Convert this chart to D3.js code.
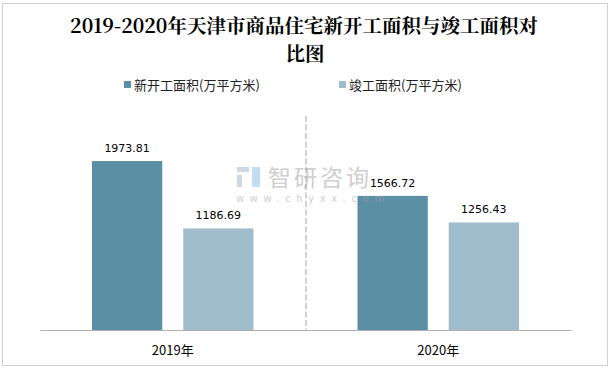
<!DOCTYPE html>
<html>
<head>
<meta charset="utf-8">
<script src="https://cdn.jsdelivr.net/npm/d3@7"></script>
<style>
  body { margin: 0; background: #fff; }
  svg { display: block; }
</style>
</head>
<body>
<div id="chart"></div>
<script>
var years = ["2019年", "2020年"];
var seriesNames = ["新开工面积(万平方米)", "竣工面积(万平方米)"];
var newStarts = [1973.81, 1566.72];
var completed = [1186.69, 1256.43];
var colors = ["#5b8fa5", "#9fbccb"];

var W = 613, H = 370;
var margin = { top: 116, left: 40 },
    width = 571 - margin.left,
    height = 330 - margin.top;

var svg = d3.select("#chart")
    .append("svg")
    .attr("width", W)
    .attr("height", H);

// outer border
svg.append("rect")
    .attr("x", 2.5).attr("y", 3.5)
    .attr("width", 605).attr("height", 362)
    .attr("fill", "none")
    .attr("stroke", "#a0a0a0")
    .attr("stroke-dasharray", "1,1");

// title, two lines
var titleLines = ["2019-2020年天津市商品住宅新开工面积与竣工面积对", "比图"];
svg.selectAll(".title")
    .data(titleLines)
    .enter().append("text")
    .attr("class", "title")
    .attr("x", function(d, i) { return i ? 305 : 304; })
    .attr("y", function(d, i) { return 33 + i * 28; })
    .attr("text-anchor", "middle")
    .attr("font-family", "'Noto Serif CJK SC', 'Noto Sans CJK SC', serif")
    .attr("font-weight", "bold")
    .attr("font-size", 19.5)
    .attr("fill", "#000")
    .text(function(d) { return d; });

// legend
var legendX = [124, 339];
seriesNames.forEach(function(name, i) {
    svg.append("rect")
        .attr("x", legendX[i]).attr("y", 81)
        .attr("width", 7).attr("height", 7)
        .attr("fill", colors[i]);
    svg.append("text")
        .attr("x", legendX[i] + 10).attr("y", 90)
        .attr("font-family", "'Noto Sans CJK SC', sans-serif")
        .attr("font-size", 13)
        .attr("fill", "#222")
        .text(name);
});

var g = svg.append("g")
    .attr("transform", "translate(" + margin.left + "," + margin.top + ")");

var x = d3.scaleBand()
    .domain(years)
    .range([0, width]);

var x1 = d3.scaleBand()
    .domain([0, 1])
    .range([52, x.bandwidth() - 52])
    .paddingInner(0.23);

var y = d3.scaleLinear()
    .domain([0, 2500])
    .range([height, 0]);

// watermark
var wm = svg.append("g").attr("opacity", 0.55);
wm.append("rect").attr("x", 237).attr("y", 167).attr("width", 12).attr("height", 5).attr("fill", "#a9b6cf");
wm.append("rect").attr("x", 237).attr("y", 175).attr("width", 5).attr("height", 12).attr("fill", "#a9b6cf");
wm.append("rect").attr("x", 252).attr("y", 167).attr("width", 8).attr("height", 20).attr("fill", "#8fc2e6");
wm.append("text")
    .attr("x", 268).attr("y", 186)
    .attr("font-family", "'Noto Sans CJK SC', sans-serif")
    .attr("font-size", 23)
    .attr("letter-spacing", 3)
    .attr("fill", "#a8a8a8")
    .text("智研咨询");
wm.append("text")
    .attr("x", 236).attr("y", 202)
    .attr("font-family", "'DejaVu Sans', sans-serif")
    .attr("font-size", 10)
    .attr("letter-spacing", 5.6)
    .attr("fill", "#a8a8a8")
    .text("www.chyxx.com");

// divider between groups
g.append("line")
    .attr("x1", x("2020年") + 0.5).attr("x2", x("2020年") + 0.5)
    .attr("y1", 0).attr("y2", height)
    .attr("stroke", "#a6a6a6")
    .attr("stroke-dasharray", "6,2.5");

var data = years.map(function(yr, i) {
    return { year: yr, values: [newStarts[i], completed[i]] };
});

var groups = g.selectAll(".grp")
    .data(data)
    .enter().append("g")
    .attr("transform", function(d) { return "translate(" + x(d.year) + ",0)"; });

groups.selectAll("rect")
    .data(function(d) { return d.values; })
    .enter().append("rect")
    .attr("x", function(d, i) { return x1(i); })
    .attr("y", function(d) { return y(d); })
    .attr("width", x1.bandwidth())
    .attr("height", function(d) { return height - y(d); })
    .attr("fill", function(d, i) { return colors[i]; });

groups.selectAll(".lbl")
    .data(function(d) { return d.values; })
    .enter().append("text")
    .attr("x", function(d, i) { return x1(i) + x1.bandwidth() / 2; })
    .attr("y", function(d) { return y(d) - 9; })
    .attr("text-anchor", "middle")
    .attr("font-family", "'DejaVu Sans', sans-serif")
    .attr("font-size", 11)
    .attr("fill", "#000")
    .text(function(d) { return d.toFixed(2); });

// baseline axis
var xAxis = g.append("g")
    .attr("transform", "translate(0," + height + ")")
    .call(d3.axisBottom(x).tickSize(0).tickPadding(16));
xAxis.select(".domain").attr("stroke", "#b0b0b0").attr("stroke-width", 1.2);
xAxis.selectAll("text")
    .attr("font-family", "'Noto Sans CJK SC', sans-serif")
    .attr("font-size", 13)
    .attr("fill", "#000");
</script>
</body>
</html>
